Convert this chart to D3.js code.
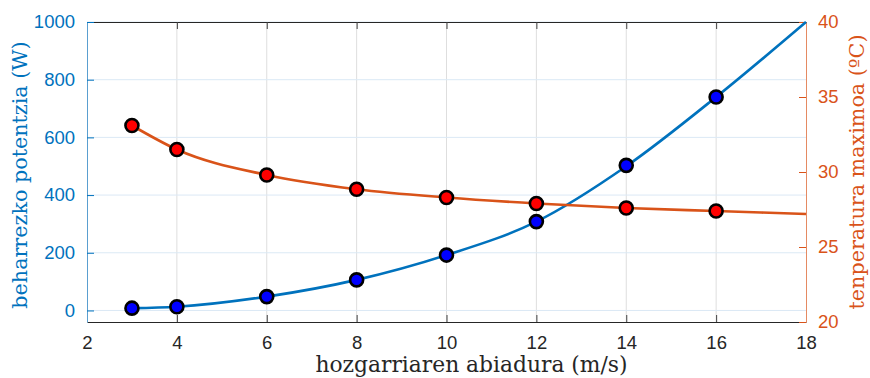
<!DOCTYPE html>
<html>
<head>
<meta charset="utf-8">
<script src="https://cdn.jsdelivr.net/npm/d3@7"></script>
<style>
  body { margin: 0; background: #fff; }
  .tick text { font-family: "Liberation Sans", Arial, sans-serif; }
</style>
</head>
<body>
<svg id="chart"></svg>
<script>
// measured points
const speeds = [3, 4, 6, 8, 10, 12, 14, 16];
const power = [8, 13, 48, 106, 192, 308, 503, 740];
const tempMax = [33.1, 31.5, 29.8, 28.85, 28.3, 27.9, 27.6, 27.4];

// fitted curves drawn through the plot range
const curveX = [3, 4, 6, 8, 10, 12, 14, 16, 18];
const powerCurve = [8, 13, 48, 106, 192, 308, 500, 740, 1000];
const tempCurve = [33.1, 31.5, 29.8, 28.85, 28.3, 27.9, 27.6, 27.4, 27.2];

const xTicks = [2, 4, 6, 8, 10, 12, 14, 16, 18];
const powerTicks = [0, 200, 400, 600, 800, 1000];
const tempTicks = [20, 25, 30, 35, 40];

const width = 870, height = 378;
const margin = {top: 22, right: 64, bottom: 56, left: 87};
const blue = "#0072BD", orange = "#D95319";

const svg = d3.select("#chart")
    .attr("width", width)
    .attr("height", height);

const x = d3.scaleLinear().domain([2, 18]).range([margin.left, width - margin.right]);
const yL = d3.scaleLinear().domain([-40, 1000]).range([height - margin.bottom, margin.top]);
const yR = d3.scaleLinear().domain([20, 40]).range([height - margin.bottom, margin.top]);

const x0 = margin.left, x1 = width - margin.right;
const y0 = height - margin.bottom, y1 = margin.top;

// grid
svg.append("g")
    .selectAll("line")
    .data(xTicks.slice(1, -1))
    .join("line")
    .attr("x1", d => x(d)).attr("x2", d => x(d))
    .attr("y1", y1).attr("y2", y0)
    .attr("stroke", "#dedede").attr("stroke-width", 1);

svg.append("g")
    .selectAll("line")
    .data(powerTicks)
    .join("line")
    .attr("x1", x0).attr("x2", x1)
    .attr("y1", d => yL(d)).attr("y2", d => yL(d))
    .attr("stroke", "#dbe9f5").attr("stroke-width", 1);

// x axis bottom
const xAxis = svg.append("g")
    .attr("transform", `translate(0,${y0})`)
    .call(d3.axisBottom(x).tickValues(xTicks).tickSizeInner(-7).tickSizeOuter(0).tickPadding(14));
xAxis.select(".domain").attr("stroke", "#262626");
xAxis.selectAll(".tick line").attr("stroke", "#404040");
xAxis.selectAll(".tick text").attr("font-size", 18.5).attr("fill", "#262626");

// top border with ticks
const xTop = svg.append("g")
    .attr("transform", `translate(0,${y1})`)
    .call(d3.axisTop(x).tickValues(xTicks).tickSizeInner(-7).tickSizeOuter(0).tickFormat(""));
xTop.select(".domain").attr("stroke", "#262626");
xTop.selectAll(".tick line").attr("stroke", "#404040");

// left axis
const yAxisL = svg.append("g")
    .attr("transform", `translate(${x0},0)`)
    .call(d3.axisLeft(yL).tickValues(powerTicks).tickFormat(d3.format("d"))
        .tickSizeInner(-7).tickSizeOuter(0).tickPadding(12));
yAxisL.select(".domain").attr("stroke", "#5a9fd0");
yAxisL.selectAll(".tick line").attr("stroke", blue);
yAxisL.selectAll(".tick text").attr("font-size", 18.5).attr("fill", blue);

// right axis
const yAxisR = svg.append("g")
    .attr("transform", `translate(${x1},0)`)
    .call(d3.axisRight(yR).tickValues(tempTicks).tickSizeInner(-7).tickSizeOuter(0).tickPadding(12));
yAxisR.select(".domain").attr("stroke", "#e58a62");
yAxisR.selectAll(".tick line").attr("stroke", orange);
yAxisR.selectAll(".tick text").attr("font-size", 18.5).attr("fill", orange);

// curves
const powerLine = d3.line()
    .x((d, i) => x(curveX[i]))
    .y(d => yL(d))
    .curve(d3.curveMonotoneX);
const tempLine = d3.line()
    .x((d, i) => x(curveX[i]))
    .y(d => yR(d))
    .curve(d3.curveMonotoneX);

svg.append("path")
    .attr("d", powerLine(powerCurve))
    .attr("fill", "none").attr("stroke", blue).attr("stroke-width", 2.6);
svg.append("path")
    .attr("d", tempLine(tempCurve))
    .attr("fill", "none").attr("stroke", orange).attr("stroke-width", 2.6);

// markers
svg.append("g")
    .selectAll("circle")
    .data(tempMax)
    .join("circle")
    .attr("cx", (d, i) => x(speeds[i]))
    .attr("cy", d => yR(d))
    .attr("r", 6.5)
    .attr("fill", "#ff0000").attr("stroke", "#000").attr("stroke-width", 2.6);

svg.append("g")
    .selectAll("circle")
    .data(power)
    .join("circle")
    .attr("cx", (d, i) => x(speeds[i]))
    .attr("cy", d => yL(d))
    .attr("r", 6.5)
    .attr("fill", "#0000ff").attr("stroke", "#000").attr("stroke-width", 2.6);

// labels
const serif = "'DejaVu Serif', serif";
svg.append("text")
    .attr("x", (x0 + x1) / 2 + 25).attr("y", 372)
    .attr("text-anchor", "middle")
    .attr("font-family", serif).attr("font-size", 21.8)
    .attr("fill", "#262626")
    .text("hozgarriaren abiadura (m/s)");

svg.append("text")
    .attr("transform", `translate(27,${(y0 + y1) / 2 + 3}) rotate(-90)`)
    .attr("text-anchor", "middle")
    .attr("font-family", serif).attr("font-size", 20.7)
    .attr("fill", blue)
    .text("beharrezko potentzia (W)");

svg.append("text")
    .attr("transform", `translate(864,${(y0 + y1) / 2}) rotate(-90)`)
    .attr("text-anchor", "middle")
    .attr("font-family", serif).attr("font-size", 20.7)
    .attr("fill", orange)
    .text("tenperatura maximoa (ºC)");
</script>
</body>
</html>
